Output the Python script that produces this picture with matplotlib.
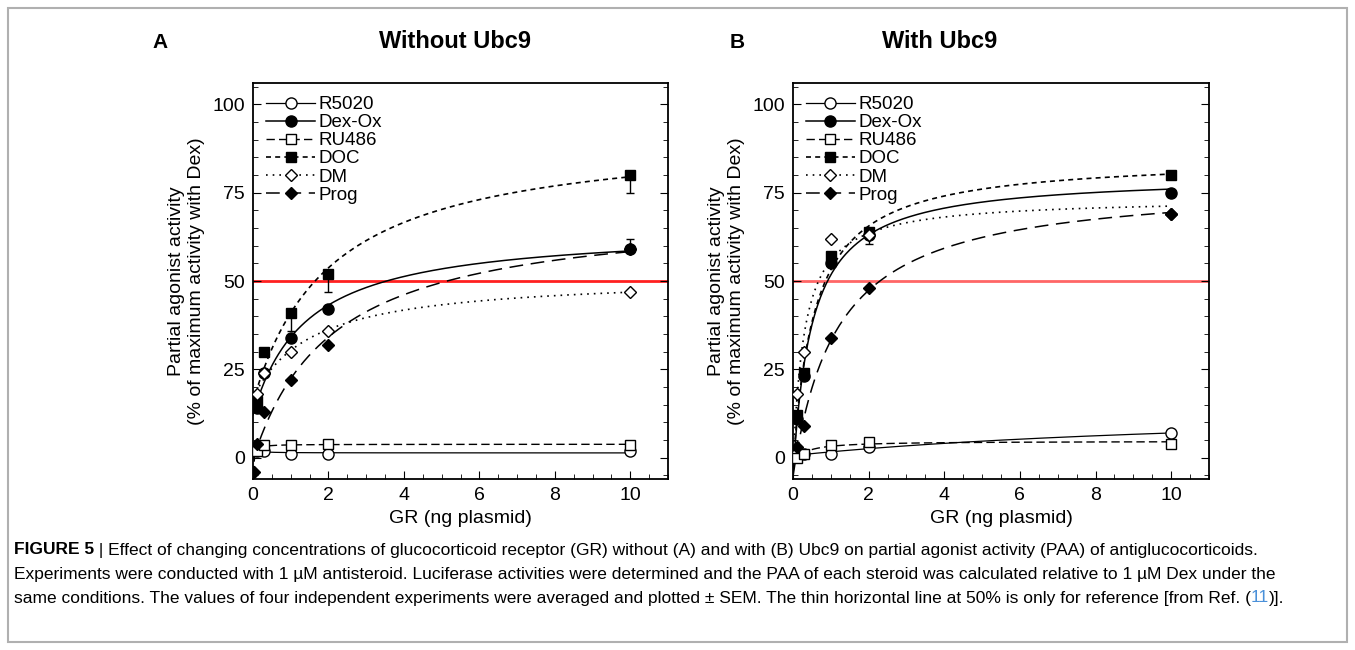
import numpy as np
import matplotlib
matplotlib.use("Agg")
import matplotlib.pyplot as plt
from matplotlib.lines import Line2D
from matplotlib.patches import Rectangle
from matplotlib.ticker import MultipleLocator

plt.rcParams['font.family'] = ['Liberation Sans Narrow', 'Liberation Sans', 'DejaVu Sans']

# GR plasmid amounts (ng)
gr_ng = [0.1, 0.3, 1, 2, 10]

# Panel A: without Ubc9
a_r5020 = [2, 2, 1, 1, 2]
a_dexox = [14, 24, 34, 42, 59]
a_ru486 = [2, 3.5, 3.5, 4, 3.5]
a_doc = [16, 30, 41, 52, 80]
a_dm = [18, 24, 30, 36, 47]
a_prog_x = [0.02, 0.1, 0.3, 1, 2, 10]
a_prog = [-4, 4, 13, 22, 32, 59]
a_doc_err_lo = [0, 0, 5, 5, 5]
a_dexox_err_hi = [0, 0, 0, 0, 3]

# Panel B: with Ubc9
b_r5020 = [1, 1, 1, 3, 7]
b_dexox = [11, 23, 55, 63, 75]
b_ru486 = [0, 1, 3.5, 4.5, 4]
b_doc = [12, 24, 57, 64, 80]
b_dm = [18, 30, 62, 63, 69]
b_prog = [3, 9, 34, 48, 69]
b_dexox_err_lo = [0, 0, 0, 2.5, 0]

labels = ["R5020", "Dex-Ox", "RU486", "DOC", "DM", "Prog"]
styles = {
    "R5020": dict(marker="o", mfc="white", ls="-", lw=0.9),
    "Dex-Ox": dict(marker="o", mfc="black", ls="-", lw=1.1),
    "RU486": dict(marker="s", mfc="white", ls=(0, (6, 3)), lw=1.0),
    "DOC": dict(marker="s", mfc="black", ls=(0, (3, 2.5)), lw=1.2),
    "DM": dict(marker="D", mfc="white", ls=(0, (1, 3)), lw=1.2),
    "Prog": dict(marker="D", mfc="black", ls=(0, (9, 5)), lw=1.1),
}
msize = {"o": 8, "s": 7.5, "D": 6.5}


def hyper_fit(x, y):
    # y = a + b*x/(c+x), c picked on a grid, a and b by least squares
    x = np.asarray(x, float)
    y = np.asarray(y, float)
    best = None
    for c in np.logspace(-2, 2, 500):
        A = np.column_stack([np.ones_like(x), x / (c + x)])
        coef, *_ = np.linalg.lstsq(A, y, rcond=None)
        r = np.sum((A @ coef - y) ** 2)
        if best is None or r < best[0]:
            best = (r, c, coef)
    _, c, (a, b) = best
    return lambda t: a + b * t / (c + t)


def draw_panel(ax, series, errs, red):
    xs = np.linspace(0, 10, 400)
    for name in labels:
        x, y = series[name]
        st = styles[name]
        f = hyper_fit(x, y)
        ax.plot(xs, f(xs), color="black", ls=st["ls"], lw=st["lw"], zorder=2)
        lo, hi = errs.get(name, ([0] * len(x), [0] * len(x)))
        ax.errorbar(x, y, yerr=[lo, hi], fmt=st["marker"], ms=msize[st["marker"]],
                    mfc=st["mfc"], mec="black", mew=1.0, ecolor="black",
                    elinewidth=1.0, capsize=3, zorder=3)
    ax.axhline(50, color=red, lw=2, zorder=1)
    ax.set_xlim(0, 11)
    ax.set_ylim(-6, 106)
    ax.xaxis.set_major_locator(MultipleLocator(2))
    ax.xaxis.set_minor_locator(MultipleLocator(0.5))
    ax.yaxis.set_major_locator(MultipleLocator(25))
    ax.yaxis.set_minor_locator(MultipleLocator(5))
    ax.tick_params(which="both", direction="in", right=True, labelsize=14)
    ax.tick_params(which="major", length=6, pad=6)
    ax.tick_params(which="minor", length=3.5)
    for s in ax.spines.values():
        s.set_linewidth(1.3)
    ax.set_xlabel("GR (ng plasmid)", fontsize=14, labelpad=4)
    ax.set_ylabel("Partial agonist activity\n(% of maximum activity with Dex)", fontsize=14,
                  labelpad=5)
    handles = []
    for name in labels:
        st = styles[name]
        handles.append(Line2D([], [], color="black", ls=st["ls"], lw=st["lw"], marker=st["marker"],
                              ms=msize[st["marker"]], mfc=st["mfc"], mec="black"))
    ax.legend(handles, labels, loc="upper left", frameon=False, fontsize=13.5,
              handlelength=2.6, handletextpad=0.2, labelspacing=0.05,
              borderaxespad=0.3, bbox_to_anchor=(0.0, 1.0))


fig = plt.figure(figsize=(13.55, 6.5), dpi=100)
W, H = 1355, 650

ax_a = fig.add_axes([253 / W, 1 - 479 / H, (668 - 253) / W, (479 - 83) / H])
ax_b = fig.add_axes([793 / W, 1 - 479 / H, (1209 - 793) / W, (479 - 83) / H])

series_a = {"R5020": (gr_ng, a_r5020), "Dex-Ox": (gr_ng, a_dexox), "RU486": (gr_ng, a_ru486),
            "DOC": (gr_ng, a_doc), "DM": (gr_ng, a_dm), "Prog": (a_prog_x, a_prog)}
errs_a = {"DOC": (a_doc_err_lo, [0] * 5), "Dex-Ox": ([0] * 5, a_dexox_err_hi)}
series_b = {"R5020": (gr_ng, b_r5020), "Dex-Ox": (gr_ng, b_dexox), "RU486": (gr_ng, b_ru486),
            "DOC": (gr_ng, b_doc), "DM": (gr_ng, b_dm), "Prog": (gr_ng, b_prog)}
errs_b = {"Dex-Ox": (b_dexox_err_lo, [0] * 5)}

draw_panel(ax_a, series_a, errs_a, "#ff2020")
draw_panel(ax_b, series_b, errs_b, "#ff6666")

fig.text(160 / W, 1 - 42 / H, "A", fontsize=15, fontweight="bold", ha="center", va="center")
fig.text(455 / W, 1 - 42 / H, "Without Ubc9", fontsize=17, fontweight="bold", ha="center", va="center")
fig.text(737 / W, 1 - 42 / H, "B", fontsize=15, fontweight="bold", ha="center", va="center")
fig.text(940 / W, 1 - 42 / H, "With Ubc9", fontsize=17, fontweight="bold", ha="center", va="center")

# figure frame
fig.patches.append(Rectangle((8 / W, 8 / H), 1 - 16 / W, 1 - 16 / H, transform=fig.transFigure,
                             fill=False, edgecolor="#b0b0b0", lw=1.5))

# caption, written piece by piece so the bold part and the blue ref stay inline
caption = [
    [("FIGURE 5", "bold", "black"),
     (" | Effect of changing concentrations of glucocorticoid receptor (GR) without (A) and with (B) "
      "Ubc9 on partial agonist activity (PAA) of antiglucocorticoids.", "normal", "black")],
    [("Experiments were conducted with 1 \u00b5M antisteroid. Luciferase activities were determined and "
      "the PAA of each steroid was calculated relative to 1 \u00b5M Dex under the", "normal", "black")],
    [("same conditions. The values of four independent experiments were averaged and plotted \u00b1 SEM. "
      "The thin horizontal line at 50% is only for reference [from Ref. (", "normal", "black"),
     ("11", "normal", "#4a90d9"), (")].", "normal", "black")],
]
fig.canvas.draw()
renderer = fig.canvas.get_renderer()
y0 = 550
for i, line in enumerate(caption):
    x = 14
    for txt, wt, col in line:
        t = fig.text(x / W, 1 - (y0 + i * 24) / H, txt, fontsize=12.5, fontweight=wt, color=col,
                     ha="left", va="center")
        bb = t.get_window_extent(renderer)
        x += bb.width

fig.savefig("out.png", dpi=100)
